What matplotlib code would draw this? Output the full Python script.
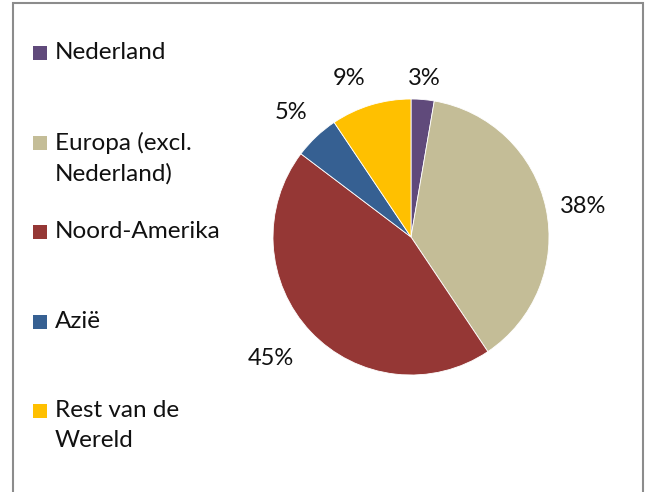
import matplotlib
matplotlib.use('Agg')
import matplotlib.pyplot as plt
from matplotlib.patches import Rectangle
import numpy as np

plt.rcParams['font.family'] = ['Lato', 'DejaVu Sans']

# data
labels = ['Nederland', 'Europa (excl.\nNederland)', 'Noord-Amerika', 'Azië', 'Rest van de\nWereld']
shares = [2.7, 37.9, 44.7, 5.3, 9.4]
colors = ['#604a7b', '#c4bd97', '#953735', '#366092', '#ffc000']

W, H = 649, 492
fig = plt.figure(figsize=(W / 100, H / 100), dpi=100)

# outer chart border
fig.patches.append(Rectangle((13 / W, -0.01), 630 / W, 1 - 3 / H + 0.01, transform=fig.transFigure,
                             fill=False, edgecolor='#8c8c8c', linewidth=1.5))

# pie: centre ~ (411, 237), radius ~ 138 px
r = 138
ax = fig.add_axes([(411 - r) / W, 1 - (237 + r) / H, 2 * r / W, 2 * r / H])
wedges, texts, autotexts = ax.pie(shares, colors=colors, startangle=90, counterclock=False,
                                  autopct='%.0f%%', pctdistance=1.27,
                                  wedgeprops=dict(linewidth=0.6, edgecolor='white'),
                                  textprops=dict(fontsize=17, color='#111111'))
ax.set_aspect('equal')
ax.set_xlim(-1, 1)
ax.set_ylim(-1, 1)

# label distances differ a bit per slice (best-fit placement)
dist = [1.17, 1.27, 1.33, 1.27, 1.25]
shift = [0, -1, -3, 0, 4]  # degrees, counter-clockwise
for w, t, d, s in zip(wedges, autotexts, dist, shift):
    ang = np.deg2rad((w.theta1 + w.theta2) / 2 + s)
    t.set_position((d * np.cos(ang), d * np.sin(ang) - 0.02))

# legend drawn by hand so the marker sits on the first line
y0, step = 53, 89.5
for i, (lab, c) in enumerate(zip(labels, colors)):
    y = y0 + i * step
    fig.patches.append(Rectangle((33 / W, 1 - (y + 7) / H), 14 / W, 14 / H,
                                 transform=fig.transFigure, facecolor=c, edgecolor='none'))
    fig.text(55 / W, 1 - (y - 11) / H, lab, fontsize=17.5, va='top', ha='left',
             linespacing=1.52, color='#111111')

fig.savefig('out.png', dpi=100)
